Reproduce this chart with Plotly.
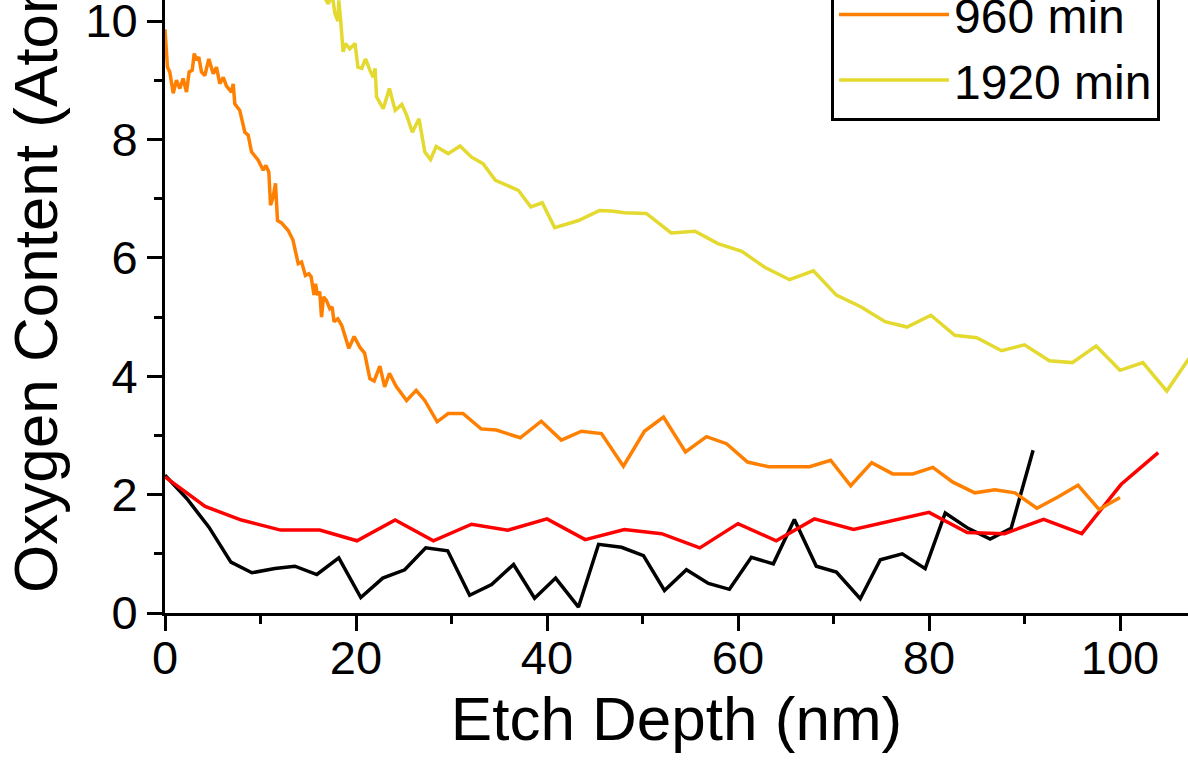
import plotly.graph_objects as go

# ---------------- data ----------------
series_names = ["0 min", "480 min", "960 min", "1920 min"]
series_colors = ["#000000", "#FF0000", "#FF8000", "#E3D92F"]

black_x = [0, 2.3, 4.6, 6.9, 9.1, 11.5, 13.6, 15.9, 18.2, 20.5, 22.8, 25.1, 27.3, 29.6, 31.9,
           34.2, 36.5, 38.7, 40.9, 43.3, 45.4, 47.8, 50.1, 52.3, 54.6, 56.9, 59.1, 61.4, 63.7,
           65.9, 68.2, 70.3, 72.8, 74.9, 77.2, 79.6, 81.7, 84.1, 86.4, 88.6, 90.9]
black_y = [2.33, 1.93, 1.45, 0.86, 0.68, 0.75, 0.79, 0.65, 0.93, 0.26, 0.59, 0.73, 1.10, 1.05, 0.30,
           0.48, 0.82, 0.25, 0.59, 0.10, 1.16, 1.11, 0.97, 0.38, 0.73, 0.50, 0.40, 0.94, 0.83,
           1.58, 0.79, 0.69, 0.24, 0.90, 1.00, 0.75, 1.69, 1.43, 1.25, 1.43, 2.75]

red_x = [0, 4.2, 8.0, 12.1, 16.2, 20.1, 24.1, 28.1, 32.1, 35.9, 40.0, 44.0, 48.1, 52.0, 56.0,
         60.0, 64.0, 68.0, 72.1, 76.0, 80.0, 84.0, 87.9, 92.0, 96.0, 100.1, 104.0]
red_y = [2.30, 1.80, 1.57, 1.40, 1.40, 1.22, 1.57, 1.22, 1.50, 1.40, 1.59, 1.24, 1.41, 1.34, 1.10,
         1.51, 1.22, 1.59, 1.41, 1.55, 1.70, 1.36, 1.34, 1.58, 1.34, 2.17, 2.71]

orange_x = [0.0, 0.26, 0.5, 0.86, 1.2, 1.55, 1.9, 2.06, 2.25, 2.53, 2.85, 3.06, 3.3, 3.54, 3.82,
            4.17, 4.59, 5.05, 5.39, 5.74, 6.1, 6.44, 6.96, 7.14, 7.31, 7.83, 8.36, 8.71, 9.06,
            9.76, 10.28, 10.56, 10.87, 11.05, 11.33, 11.57, 11.78, 12.2, 12.9, 13.4, 13.95, 14.3,
            14.7, 15.06, 15.3, 15.6, 15.76, 15.97, 16.2, 16.39, 16.6, 16.9, 17.26, 17.5, 17.7,
            18.1, 18.5, 19.25, 19.8, 20.4, 20.9, 21.45, 21.9, 22.5, 23.0, 23.5, 24.2, 25.3, 26.3,
            27.2, 28.5, 29.65, 31.2, 33.1, 34.7, 37.2, 39.4, 41.5, 43.6, 45.7, 48.0, 50.2, 52.2,
            54.5, 56.7, 58.8, 61.0, 63.2, 65.4, 67.5, 69.7, 71.8, 74.0, 76.2, 78.3, 80.4, 82.5,
            84.8, 86.9, 89.0, 91.3, 93.5, 95.6, 97.8, 100.0]
orange_y = [9.86, 9.22, 9.14, 8.78, 9.0, 8.86, 9.03, 8.89, 8.80, 9.14, 9.17, 9.45, 9.34, 9.39, 9.14,
            9.08, 9.36, 9.11, 9.22, 8.94, 9.05, 8.90, 8.80, 8.94, 8.60, 8.49, 8.12, 8.07, 7.79,
            7.65, 7.48, 7.56, 7.45, 6.89, 7.03, 7.26, 6.63, 6.59, 6.46, 6.30, 5.90, 5.93,
            5.70, 5.73, 5.68, 5.37, 5.56, 5.37, 5.43, 5.00, 5.34, 5.28, 5.14, 5.17, 4.92,
            4.97, 4.86, 4.47, 4.67, 4.49, 4.39, 3.96, 3.92, 4.17, 3.82, 4.05, 3.83, 3.59, 3.76,
            3.59, 3.23, 3.37, 3.37, 3.11, 3.09, 2.96, 3.24, 2.92, 3.07, 3.03, 2.48, 3.07, 3.31,
            2.72, 2.98, 2.86, 2.55, 2.47, 2.47, 2.47, 2.58, 2.15, 2.54, 2.35, 2.35, 2.46, 2.21,
            2.03, 2.08, 2.03, 1.77, 1.96, 2.16, 1.75, 1.95]

yellow_x = [0, 5, 10, 14, 16.7, 17.1, 17.5, 17.8, 18.1, 18.2, 18.4, 18.65, 18.9, 19.35, 19.9,
            20.2, 20.6, 21.0, 21.45, 21.8, 22.0, 22.15, 22.85, 23.5, 24.1, 24.8, 25.3, 25.9, 26.6,
            27.2, 27.8, 28.4, 29.65, 30.9, 32.1, 33.3, 34.6, 37.0, 38.3, 39.5, 40.8, 43.3, 45.5,
            46.75, 48.1, 50.4, 53.0, 55.5, 57.9, 60.4, 62.8, 65.4, 67.9, 70.3, 72.9, 75.4, 77.7,
            80.2, 82.7, 85.0, 87.6, 90.0, 92.6, 95.0, 97.5, 100.0, 102.4, 104.9, 107.3, 109.8]
yellow_y = [15.2, 13.6, 12.1, 11.0, 10.4, 10.29, 10.45, 10.12, 10.0, 10.35, 10.0, 9.48, 9.62, 9.53, 9.62,
            9.22, 9.2, 9.36, 9.17, 9.05, 9.2, 8.72, 8.52, 8.86, 8.49, 8.59, 8.41, 8.12, 8.35,
            7.79, 7.66, 7.88, 7.76, 7.89, 7.70, 7.59, 7.31, 7.14, 6.86, 6.93, 6.51, 6.63, 6.80,
            6.79, 6.76, 6.75, 6.42, 6.45, 6.24, 6.11, 5.84, 5.63, 5.78, 5.37, 5.17, 4.92, 4.83,
            5.03, 4.69, 4.65, 4.43, 4.53, 4.26, 4.23, 4.51, 4.10, 4.23, 3.75, 4.32, 4.7]

x_title = "Etch Depth (nm)"
y_title = "Oxygen Content (Atomic %)"

# ---------------- figure ----------------
FONT = "Liberation Sans, Arial, sans-serif"
W, H = 1188, 760
ML, MB, MT, MR = 165, 147, 0, 0
PW, PH = W - ML - MR, H - MB - MT
x_range = [0, 107.12]
y_range = [0, 10.355]

fig = go.Figure()
for name, color, xs, ys in zip(series_names, series_colors,
                               [black_x, red_x, orange_x, yellow_x],
                               [black_y, red_y, orange_y, yellow_y]):
    fig.add_trace(go.Scatter(x=xs, y=ys, mode="lines", name=name,
                             line=dict(color=color, width=3.5)))

axis_common = dict(
    showline=True, linewidth=3, linecolor="black",
    ticks="outside", ticklen=15, tickwidth=3, tickcolor="black",
    showgrid=False, zeroline=False, ticklabeloverflow="allow",
    tickfont=dict(family=FONT, size=47, color="black"),
)

fig.update_layout(
    width=W, height=H,
    margin=dict(l=ML, r=MR, t=MT, b=MB, autoexpand=False),
    paper_bgcolor="white", plot_bgcolor="white",
    xaxis=dict(range=x_range, dtick=20, tick0=0, ticklabelstandoff=-13,
               minor=dict(dtick=10, ticks="outside", ticklen=8, tickwidth=3, tickcolor="black"),
               title=dict(text=x_title, font=dict(family=FONT, size=62, color="black"), standoff=12),
               **axis_common),
    yaxis=dict(range=y_range, dtick=2, tick0=0,
               minor=dict(dtick=1, ticks="outside", ticklen=8, tickwidth=3, tickcolor="black"),
               **axis_common),
    legend=dict(x=(1160 - ML) / PW, xanchor="right",
                y=(PH - 121) / PH, yanchor="bottom",
                bordercolor="black", borderwidth=3, bgcolor="white",
                font=dict(family=FONT, size=48, color="black"),
                itemwidth=110, tracegroupgap=0),
    showlegend=True,
)

fig.add_annotation(
    text=y_title, textangle=-90, showarrow=False,
    xref="paper", yref="paper",
    x=(35 - ML) / PW, y=(PH - 209) / PH,
    xanchor="center", yanchor="middle",
    font=dict(family=FONT, size=62, color="black"),
)

fig.write_html("out.html",
               config={"displayModeBar": False},
               post_script="document.body.style.margin='0';document.body.style.overflow='hidden';")
